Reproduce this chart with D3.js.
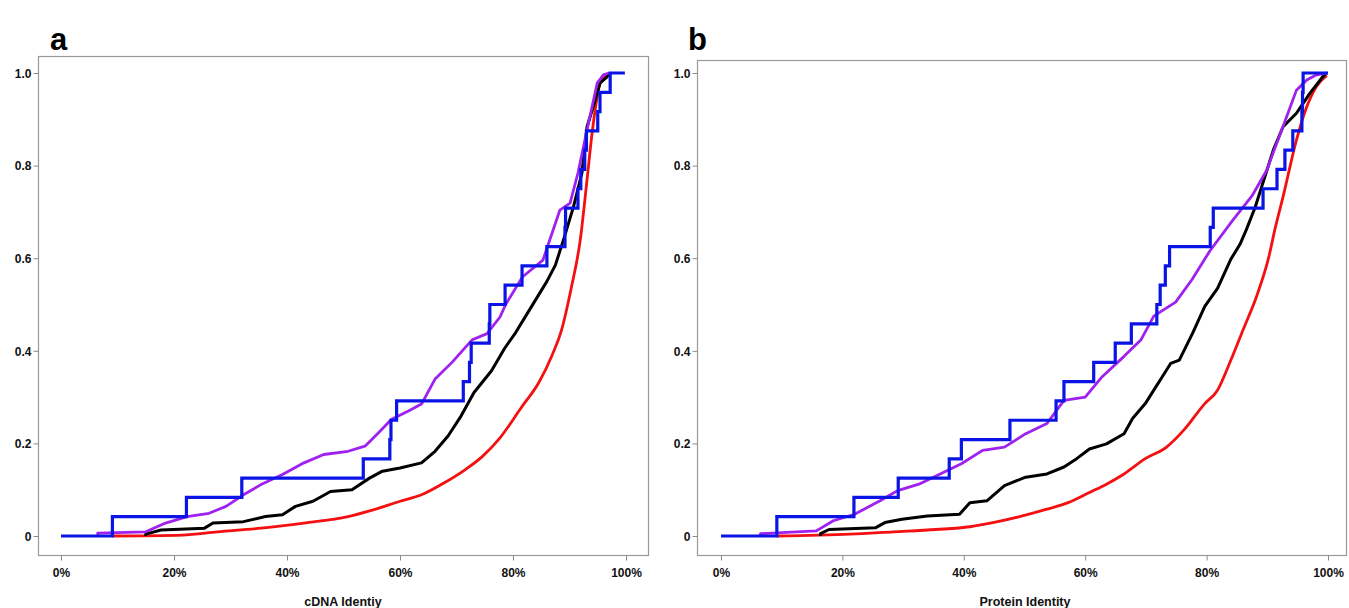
<!DOCTYPE html>
<html>
<head>
<meta charset="utf-8">
<script src="https://cdn.jsdelivr.net/npm/d3@7"></script>
<style>
  html, body { margin: 0; padding: 0; background: #fff; }
  svg { display: block; }
</style>
</head>
<body>
<svg id="chart" width="1349" height="608"></svg>
<script>
'use strict'

// tick values and labels
const xTicks = [0, 20, 40, 60, 80, 100]
const yTicks = [0, 0.2, 0.4, 0.6, 0.8, 1.0]
const panelLetters = ['a', 'b']
const axisTitles = ['cDNA Identiy', 'Protein Identity']

// blue: 24 values, x (%) where the cumulative fraction goes up by 1/24
const blueStepsA = [9.1, 22.2, 32.0, 53.5, 58.2, 58.4, 59.4, 71.2, 72.3, 72.6, 75.8, 75.9,
  78.6, 81.6, 86.0, 89.2, 89.3, 91.5, 92.0, 92.7, 93.0, 95.0, 95.4, 97.2]
const blueEndA = 99.8
const blueStepsB = [9.2, 21.9, 29.2, 37.6, 39.6, 47.6, 55.2, 56.5, 61.4, 64.95, 67.6, 71.8,
  72.35, 73.2, 73.9, 80.6, 81.1, 89.3, 91.6, 92.9, 94.2, 95.7, 95.8, 95.9]
const blueEndB = 100

// purple, black, red: [identity %, cumulative fraction]
const purpleA = [[6.5, 0], [6.5, 0.006], [15, 0.009], [18.5, 0.028], [22.3, 0.042], [26.2, 0.049],
  [29.2, 0.064], [32.3, 0.089], [35.4, 0.111], [39.2, 0.133], [43, 0.158], [46.5, 0.176],
  [50.8, 0.183], [53.8, 0.194], [56.2, 0.223], [58.5, 0.252], [61.5, 0.27], [63.8, 0.285],
  [66.2, 0.339], [69.2, 0.375], [72.8, 0.424], [75.4, 0.437], [77.7, 0.473], [78.7, 0.5],
  [81.7, 0.56], [85.3, 0.596], [88.3, 0.704], [90.1, 0.719], [91.5, 0.784], [93.1, 0.877],
  [94.9, 0.978], [96, 0.996], [97, 1]]
const blackA = [[15, 0], [15, 0.004], [17.7, 0.013], [25.4, 0.017], [26.9, 0.028], [32.3, 0.031],
  [36.2, 0.042], [39.2, 0.046], [41.5, 0.064], [44.6, 0.075], [47.7, 0.096], [51.5, 0.1],
  [54.6, 0.125], [56.9, 0.14], [60, 0.147], [63.8, 0.158], [66.2, 0.183], [68.5, 0.216],
  [70.8, 0.259], [73.1, 0.31], [76.2, 0.357], [78.5, 0.405], [80.5, 0.44], [83, 0.49],
  [86, 0.55], [87.5, 0.585], [89.1, 0.646], [90.7, 0.711], [92.2, 0.784], [93.1, 0.884],
  [94.2, 0.927], [95.4, 0.978], [96.6, 0.991], [97.2, 1]]
const redA = [[9.1, 0], [21.5, 0.002], [27.7, 0.009], [35.4, 0.017], [43, 0.028], [50.8, 0.042],
  [55.4, 0.057], [60, 0.075], [63.8, 0.089], [67.7, 0.114], [71.5, 0.143], [74.6, 0.172],
  [77.7, 0.212], [81.5, 0.278], [84.6, 0.332], [86.9, 0.39], [88.6, 0.445], [90.3, 0.535],
  [91.9, 0.639], [93.1, 0.769], [94, 0.87], [94.9, 0.948], [95.4, 0.978], [96.3, 0.991], [97.2, 1]]

const purpleB = [[6.5, 0], [6.5, 0.005], [15.7, 0.011], [18.5, 0.033], [22, 0.047], [26.2, 0.076],
  [29.1, 0.098], [32.6, 0.112], [36.1, 0.134], [39.6, 0.156], [43.1, 0.185], [46.7, 0.192],
  [50.2, 0.221], [53.7, 0.243], [56.5, 0.293], [60, 0.3], [62.8, 0.344], [66.4, 0.388],
  [69.2, 0.424], [71.3, 0.475], [74.9, 0.505], [77.6, 0.554], [80.5, 0.615], [84.2, 0.68],
  [87.5, 0.735], [89.9, 0.79], [93.2, 0.906], [94.8, 0.963], [96.5, 0.985], [98.1, 0.996], [99.8, 1]]
const blackB = [[16.4, 0], [16.4, 0.005], [17.8, 0.014], [25.5, 0.018], [27, 0.029], [29.8, 0.036],
  [34, 0.043], [39.3, 0.047], [41, 0.072], [43.8, 0.076], [46.7, 0.109], [50.2, 0.127],
  [53.7, 0.134], [56.5, 0.149], [58.6, 0.167], [60.7, 0.188], [63.5, 0.199], [66.4, 0.221],
  [67.8, 0.254], [69.9, 0.286], [71.3, 0.315], [72.7, 0.344], [74.1, 0.373], [75.5, 0.38],
  [77.7, 0.438], [79.7, 0.496], [81.8, 0.535], [84, 0.598], [85.5, 0.63], [86.5, 0.66],
  [88, 0.71], [91, 0.834], [92.6, 0.884], [94.8, 0.913], [97, 0.956], [99.2, 0.993], [99.8, 1]]
const redB = [[9.2, 0], [21.3, 0.004], [28.4, 0.009], [35.4, 0.014], [41, 0.02], [45.2, 0.03],
  [49.5, 0.043], [53.7, 0.058], [57.2, 0.072], [60.7, 0.094], [63.5, 0.112], [66.4, 0.134],
  [69.9, 0.167], [73.4, 0.192], [76.2, 0.228], [79.7, 0.286], [81.8, 0.315], [84, 0.38],
  [86, 0.445], [88.3, 0.52], [90.2, 0.6], [91.3, 0.665], [92.6, 0.733], [94.8, 0.855],
  [96.5, 0.927], [98.1, 0.971], [99.8, 0.995]]

const panelData = [
  { red: redA, black: blackA, purple: purpleA, blueSteps: blueStepsA, blueEnd: blueEndA },
  { red: redB, black: blackB, purple: purpleB, blueSteps: blueStepsB, blueEnd: blueEndB }
]

// layout of the two panels (pixels)
const layout = [
  { x0: 61, x1: 626, box: [38, 56, 648, 555], letterX: 50, titleX: 343 },
  { x0: 721, x1: 1328, box: [697, 60, 1346, 555], letterX: 688, titleX: 1025 }
]
const yTop = 73
const yBottom = 536
const font = "'Liberation Sans', Arial, sans-serif"

const svg = d3.select('#chart')

function blueToPoints (steps, end) {
  const n = steps.length
  const pts = [[0, 0]]
  steps.forEach((s, i) => pts.push([s, (i + 1) / n]))
  pts.push([end, 1])
  return pts
}

function drawPanel (i) {
  const L = layout[i]
  const D = panelData[i]
  const x = d3.scaleLinear().domain([0, 100]).range([L.x0, L.x1])
  const y = d3.scaleLinear().domain([0, 1]).range([yBottom, yTop])
  const g = svg.append('g')

  const [bx0, by0, bx1, by1] = L.box
  g.append('rect')
    .attr('x', bx0 + 0.5).attr('y', by0 + 0.5)
    .attr('width', bx1 - bx0).attr('height', by1 - by0)
    .attr('fill', 'none')
    .attr('stroke', '#9a9a9a')
    .attr('stroke-width', 1.2)

  const xAxis = g.append('g')
    .attr('transform', `translate(0,${by1 + 0.5})`)
    .call(d3.axisBottom(x).tickValues(xTicks).tickFormat(d => d + '%').tickSize(5).tickPadding(8))
  const yAxis = g.append('g')
    .attr('transform', `translate(${bx0 + 0.5},0)`)
    .call(d3.axisLeft(y).tickValues(yTicks).tickFormat(d => d === 0 ? '0' : d3.format('.1f')(d)).tickSize(5).tickPadding(2))

  for (const ax of [xAxis, yAxis]) {
    ax.select('.domain').remove()
    ax.selectAll('line').attr('stroke', '#8a8a8a')
    ax.selectAll('text')
      .attr('fill', '#111')
      .style('font-family', font)
      .style('font-size', '12px')
      .style('font-weight', 'bold')
  }
  yAxis.selectAll('text').attr('dy', '0.35em')

  const line = d3.line().x(d => x(d[0])).y(d => y(d[1]))

  g.append('path')
    .datum(D.red)
    .attr('d', line.curve(d3.curveMonotoneX))
    .attr('fill', 'none')
    .attr('stroke', '#f41010')
    .attr('stroke-width', 2.8)

  g.append('path')
    .datum(D.black)
    .attr('d', line.curve(d3.curveLinear))
    .attr('fill', 'none')
    .attr('stroke', '#000')
    .attr('stroke-width', 3)
    .attr('stroke-linejoin', 'round')

  g.append('path')
    .datum(D.purple)
    .attr('d', line.curve(d3.curveLinear))
    .attr('fill', 'none')
    .attr('stroke', '#a020f0')
    .attr('stroke-width', 2.8)
    .attr('stroke-linejoin', 'round')

  g.append('path')
    .datum(blueToPoints(D.blueSteps, D.blueEnd))
    .attr('d', line.curve(d3.curveStepAfter))
    .attr('fill', 'none')
    .attr('stroke', '#0a14e6')
    .attr('stroke-width', 3.2)

  g.append('text')
    .attr('x', L.letterX)
    .attr('y', 50)
    .attr('fill', '#000')
    .style('font-family', font)
    .style('font-size', '31px')
    .style('font-weight', 'bold')
    .text(panelLetters[i])

  g.append('text')
    .attr('x', L.titleX)
    .attr('y', 606)
    .attr('text-anchor', 'middle')
    .attr('fill', '#111')
    .style('font-family', font)
    .style('font-size', '12.5px')
    .style('font-weight', 'bold')
    .text(axisTitles[i])
}

drawPanel(0)
drawPanel(1)
</script>
</body>
</html>
